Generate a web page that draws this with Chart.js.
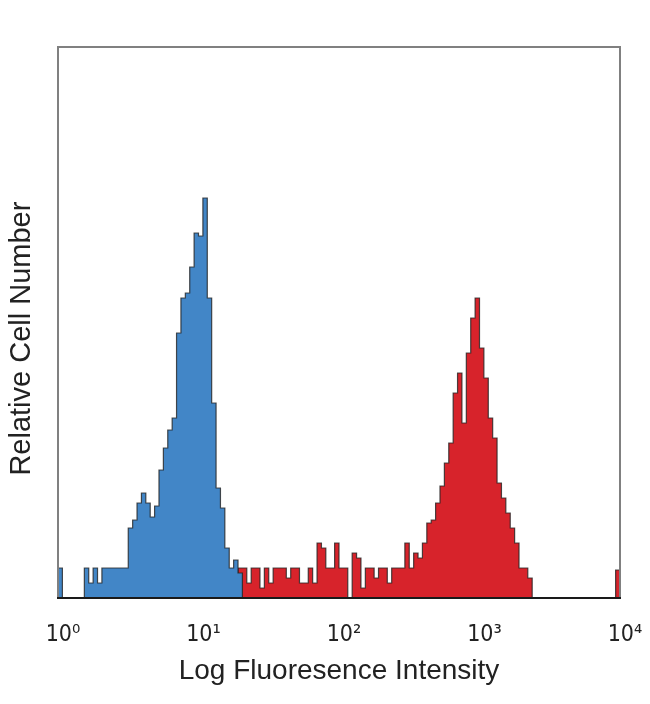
<!DOCTYPE html>
<html>
<head>
<meta charset="utf-8">
<script src="https://cdn.jsdelivr.net/npm/chart.js@4/dist/chart.umd.min.js"></script>
<style>
  html, body { margin: 0; padding: 0; background: #ffffff; }
  #wrap { width: 650px; height: 704px; }
</style>
</head>
<body>
<div id="wrap"><canvas id="c" width="650" height="704"></canvas></div>
<script>
// ---- data ----
const binsPerDecade = 32;                    // histogram resolution on the log axis
const tickValues = [1, 10, 100, 1000, 10000];
const tickLabels = ['10\u2070', '10\u00B9', '10\u00B2', '10\u00B3', '10\u2074'];
const xTitle = 'Log Fluoresence Intensity';
const yTitle = 'Relative Cell Number';

// relative cell counts per bin (128 bins across 4 decades)
const blueCounts = [
  30, 0, 0, 0, 0, 0, 30, 15, 30, 15, 30, 30, 30, 30, 30, 30,
  70, 78, 95, 105, 95, 81, 92, 128, 150, 168, 180, 265, 300, 305, 331, 365,
  362, 400, 300, 195, 110, 90, 50, 30, 38, 25, 0, 0, 0, 0, 0, 0,
  0, 0, 0, 0, 0, 0, 0, 0, 0, 0, 0, 0, 0, 0, 0, 0,
  0, 0, 0, 0, 0, 0, 0, 0, 0, 0, 0, 0, 0, 0, 0, 0,
  0, 0, 0, 0, 0, 0, 0, 0, 0, 0, 0, 0, 0, 0, 0, 0,
  0, 0, 0, 0, 0, 0, 0, 0, 0, 0, 0, 0, 0, 0, 0, 0,
  0, 0, 0, 0, 0, 0, 0, 0, 0, 0, 0, 0, 0, 0, 0, 0
];
const redCounts = [
  0, 0, 0, 0, 0, 0, 0, 0, 0, 0, 0, 0, 0, 0, 0, 0,
  0, 0, 0, 0, 0, 0, 0, 0, 0, 0, 0, 0, 0, 0, 0, 0,
  0, 0, 0, 0, 0, 0, 0, 0, 0, 30, 30, 15, 30, 30, 10, 30,
  15, 30, 30, 30, 20, 30, 30, 15, 15, 30, 15, 55, 50, 30, 30, 55,
  30, 30, 0, 45, 40, 10, 30, 30, 20, 30, 30, 15, 30, 30, 30, 55,
  30, 45, 40, 55, 75, 78, 95, 112, 135, 155, 205, 225, 175, 245, 280, 300,
  250, 220, 180, 160, 115, 100, 85, 70, 55, 30, 30, 20, 0, 0, 0, 0,
  0, 0, 0, 0, 0, 0, 0, 0, 0, 0, 0, 0, 0, 0, 0, 28
];

// ---- build stepped histogram points through the log scale ----
function toPoints(counts) {
  const pts = [{ x: 1, y: 0 }];
  counts.forEach((c, i) => pts.push({ x: Math.pow(10, i / binsPerDecade), y: c }));
  pts.push({ x: Math.pow(10, counts.length / binsPerDecade), y: 0 });
  return pts;
}

const framePlugin = {
  id: 'frame',
  afterDatasetsDraw(chart) {
    const { ctx, chartArea: a } = chart;
    ctx.save();
    ctx.strokeStyle = '#808080';
    ctx.lineWidth = 2;
    ctx.beginPath();
    ctx.moveTo(a.left, a.bottom);
    ctx.lineTo(a.left, a.top);
    ctx.lineTo(a.right, a.top);
    ctx.lineTo(a.right, a.bottom);
    ctx.stroke();
    ctx.strokeStyle = '#1a1a1a';
    ctx.beginPath();
    ctx.moveTo(a.left - 1, a.bottom);
    ctx.lineTo(a.right + 1, a.bottom);
    ctx.stroke();
    ctx.restore();
  }
};

const PLOT_LEFT = 58, PLOT_RIGHT = 620, PLOT_TOP = 47, PLOT_BOTTOM = 598;
const W = 650, H = 704;

new Chart(document.getElementById('c'), {
  type: 'line',
  data: {
    datasets: [
      {
        label: 'blue',
        data: toPoints(blueCounts),
        stepped: 'before',
        fill: 'origin',
        backgroundColor: '#4286c7',
        borderColor: 'rgba(35,35,35,0.8)',
        borderWidth: 1.2,
        pointRadius: 0,
        tension: 0
      },
      {
        label: 'red',
        data: toPoints(redCounts),
        stepped: 'before',
        fill: 'origin',
        backgroundColor: '#d7232b',
        borderColor: 'rgba(35,35,35,0.8)',
        borderWidth: 1.2,
        pointRadius: 0,
        tension: 0
      }
    ]
  },
  options: {
    responsive: false,
    devicePixelRatio: 1,
    animation: false,
    events: [],
    layout: { padding: { top: PLOT_TOP, right: W - PLOT_RIGHT, left: 0, bottom: 0 } },
    plugins: { legend: { display: false }, tooltip: { enabled: false } },
    scales: {
      x: {
        type: 'logarithmic',
        min: 1,
        max: 10000,
        afterBuildTicks: (s) => { s.ticks = tickValues.map(v => ({ value: v })); },
        afterFit: (s) => { s.height = H - PLOT_BOTTOM; s.paddingLeft = 0; s.paddingRight = 0; },
        grid: { display: false, drawTicks: false },
        border: { display: false },
        ticks: {
          autoSkip: false,
          maxRotation: 0,
          padding: 23,
          labelOffset: 5,
          color: '#222',
          font: { family: "'DejaVu Sans Condensed', 'DejaVu Sans'", size: 23 },
          callback: (v, i) => tickLabels[i]
        },
        title: {
          display: true,
          text: xTitle,
          color: '#222',
          font: { family: 'Liberation Sans', size: 28 },
          padding: { top: 0, bottom: 16 }
        }
      },
      y: {
        min: 0,
        max: 551,
        afterFit: (s) => { s.width = PLOT_LEFT; s.paddingTop = 0; s.paddingBottom = 0; },
        grid: { display: false, drawTicks: false },
        border: { display: false },
        ticks: { display: false },
        title: {
          display: true,
          text: yTitle + '    ',
          color: '#222',
          font: { family: 'Liberation Sans', size: 29 },
          padding: { top: 5, bottom: 0 }
        }
      }
    }
  },
  plugins: [framePlugin]
});
</script>
</body>
</html>
